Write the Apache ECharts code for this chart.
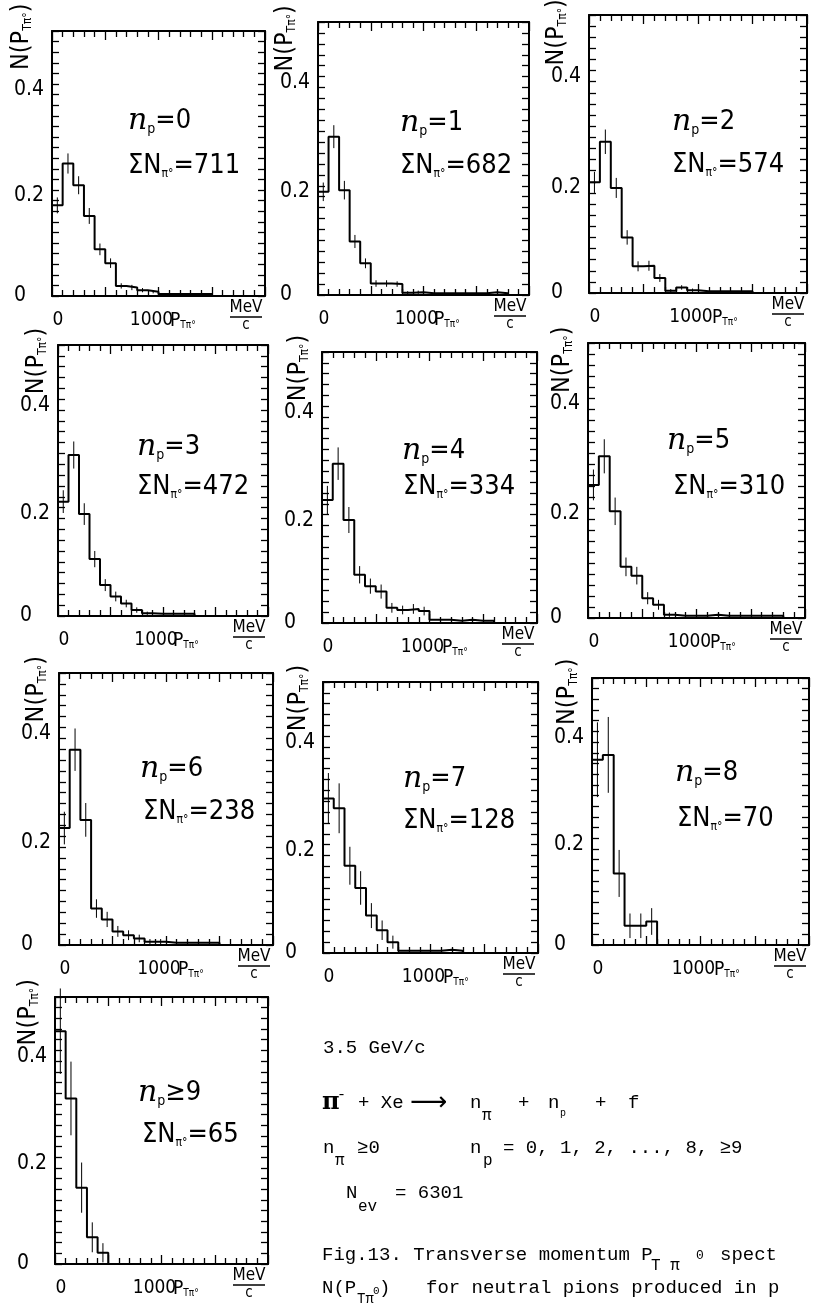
<!DOCTYPE html>
<html><head><meta charset="utf-8">
<script src="https://cdn.jsdelivr.net/npm/echarts@6/dist/echarts.min.js"></script>
<style>html,body{margin:0;padding:0;background:#fff}#c{width:820px;height:1306px}</style>
</head><body><div id="c"></div>
<script>
// ---------------- data ----------------
const binEdges = [0,100,200,300,400,500,600,700,800,900,1000,1100,1200,1300,1400,1500,1600,1700,1800,1900,2000];
const xTickLabels = ['0','1000'];
const yTickLabels = ['0','0.2','0.4'];
const npLabels = ['=0','=1','=2','=3','=4','=5','=6','=7','=8','≥9'];
const sumLabels = ['711','682','574','472','334','310','238','128','70','65'];

const hist0 = [0.171,0.250,0.209,0.151,0.088,0.062,0.019,0.016,0.011,0.008,0.004,0.004,0.004,0.004,0.004];
const hist1 = [0.189,0.290,0.192,0.098,0.058,0.021,0.021,0.020,0.004,0.005,0.003,0.003,0.003,0.003,0.003,0.003,0.005,0.003];
const hist2 = [0.199,0.272,0.189,0.100,0.048,0.049,0.027,0.004,0.010,0.005,0.003,0.003,0.003,0.003,0.003];
const hist3 = [0.211,0.297,0.188,0.105,0.057,0.036,0.023,0.011,0.005,0.004,0.004,0.004,0.004];
const hist4 = [0.227,0.294,0.190,0.089,0.068,0.058,0.028,0.024,0.026,0.022,0.006,0.006,0.004,0.006,0.004,0.004];
const hist5 = [0.242,0.294,0.194,0.093,0.077,0.036,0.024,0.006,0.004,0.004,0.004,0.006,0.004,0.004,0.004,0.004,0.004,0.004];
const hist6 = [0.215,0.359,0.230,0.067,0.047,0.025,0.018,0.012,0.006,0.006,0.004,0.004,0.004,0.004,0.004];
const hist7 = [0.285,0.267,0.161,0.120,0.069,0.042,0.020,0.004,0.004,0.004,0.004,0.006,0.004];
const hist8 = [0.347,0.356,0.134,0.036,0.036,0.044];
const hist9 = [0.436,0.310,0.143,0.050,0.021];

const err0 = [0.015,0.019,0.017,0.015,0.011,0.009,0.005,0.005,0.004,0.003];
const err1 = [0.017,0.021,0.017,0.012,0.009,0.006,0.006,0.005,0.003,0.003];
const err2 = [0.019,0.022,0.018,0.013,0.009,0.009,0.007,0.003,0.004,0.003];
const err3 = [0.021,0.025,0.020,0.015,0.011,0.009,0.007,0.005,0.003];
const err4 = [0.026,0.030,0.024,0.016,0.014,0.013,0.009,0.008,0.009,0.008];
const err5 = [0.028,0.031,0.025,0.017,0.016,0.011,0.009,0.004];
const err6 = [0.030,0.039,0.031,0.017,0.014,0.010,0.009,0.007,0.005,0.005];
const err7 = [0.047,0.046,0.035,0.031,0.023,0.018,0.012];
const err8 = [0.070,0.071,0.044,0.023,0.023,0.025];
const err9 = [0.080,0.069,0.047,0.028,0.018];

// ---------------- layout ----------------
const frames = [[52,31,265,296],[318,22,529,295],[589,15,807,293],
                [58,345,268,616],[322,352,537,623],[588,343,805,618],
                [59,673,273,945],[323,682,538,953],[592,678,809,945],
                [55,997,268,1264]];
const npPos  = [[76,90],[82,101],[83,107],[79,102],[80,99],[79,98],[81,96],[80,97],[83,95],[83,96]];
const sumPos = [[76,135],[82,144],[83,150],[79,142],[81,135],[85,144],[84,139],[80,139],[85,141],[87,138]];
const namePos = [[-31,39],[-33,50],[-33,62],[-22,53],[-24,50],[-26,57],[-23,50],[-25,50],[-25,47],[-27,56]];

const NF = "'Liberation Sans Narrow','DejaVu Sans Condensed',sans-serif";
const MF = "'Liberation Mono','DejaVu Sans Mono',monospace";
const hists = [hist0,hist1,hist2,hist3,hist4,hist5,hist6,hist7,hist8,hist9];
const errs  = [err0,err1,err2,err3,err4,err5,err6,err7,err8,err9];

const grids=[], xAxes=[], yAxes=[], series=[], graphics=[];
const line = {color:'#000', width:1.3};

function txt(x,y,text,opt){
  opt = opt||{};
  return {type:'text', x:x, y:y, rotation:opt.rotation||0, silent:true, z:100,
    style:Object.assign({text:text, fill:'#000', fontSize:opt.size||19, fontFamily:opt.family||MF,
      fontStyle:opt.italic?'italic':'normal', fontWeight:opt.bold?'bold':'normal',
      align:opt.align||'left', textAlign:opt.align||'left',
      verticalAlign:'middle', textVerticalAlign:'middle'}, opt.rich?{rich:opt.rich}:{})};
}

frames.forEach((f,i)=>{
  const [L,T,R,B]=f, W=R-L, H=B-T;
  grids.push({left:L, top:T, width:W, height:H, containLabel:false, outerBoundsMode:'none', show:false});
  const xb = {gridIndex:i, type:'value', min:binEdges[0], max:binEdges[binEdges.length-1], interval:500,
    axisLine:{show:true,onZero:false,lineStyle:{color:'#000',width:2}},
    axisTick:{show:true,inside:true,length:9,lineStyle:line},
    minorTick:{show:true,splitNumber:5,length:6,lineStyle:line},
    splitLine:{show:false}, minorSplitLine:{show:false}};
  xAxes.push(Object.assign({}, xb, {position:'bottom',
    axisLabel:{show:true, margin:15, fontSize:19, fontFamily:NF, color:'#000',
      rich:{z:{fontSize:19,fontFamily:NF,color:'#000',padding:[0,0,0,12]},
            k:{fontSize:19,fontFamily:NF,color:'#000',padding:[0,14,0,0]}},
      formatter:v=>{const s=String(v); if(!xTickLabels.includes(s)) return ''; return (s==='0'?'{z|':'{k|')+s+'}';}}}));
  xAxes.push(Object.assign({}, xb, {position:'top', axisLabel:{show:false}}));
  const yb = {gridIndex:i, type:'value', min:0, max:0.5, interval:0.02,
    axisLine:{show:true,onZero:false,lineStyle:{color:'#000',width:2}},
    axisTick:{show:true,inside:true,length:7,lineStyle:line},
    splitLine:{show:false}};
  yAxes.push(Object.assign({}, yb, {position:'left',
    axisLabel:{show:true, margin:38, align:'left', fontSize:21, fontFamily:NF, color:'#000',
      rich:{d:{fontSize:21,fontFamily:NF,color:'#000',padding:[12,0,0,0]},
            o:{fontSize:21,fontFamily:NF,color:'#000'}},
      formatter:v=>{const s=String(Math.round(v*100)/100); if(!yTickLabels.includes(s)) return ''; return (s==='0'?'{o|':'{d|')+s+'}';}}}));
  yAxes.push(Object.assign({}, yb, {position:'right', axisLabel:{show:false}}));

  const vals = hists[i], n = vals.length;
  const pts = vals.map((v,j)=>[binEdges[j], v]);
  pts.push([binEdges[n], vals[n-1]]);
  pts.push([binEdges[n], 0]);
  series.push({type:'line', xAxisIndex:2*i, yAxisIndex:2*i, data:pts, step:'end', symbol:'none',
    lineStyle:{color:'#000', width:2}, silent:true, animation:false, z:5});
  const ed = errs[i].map((e,j)=>[(binEdges[j]+binEdges[j+1])/2, Math.max(0, vals[j]-e), vals[j]+e]);
  series.push({type:'custom', xAxisIndex:2*i, yAxisIndex:2*i, data:ed, encode:{x:0,y:[1,2]}, silent:true, animation:false, z:6,
    renderItem:(params, api)=>{
      const p1 = api.coord([api.value(0), api.value(1)]);
      const p2 = api.coord([api.value(0), api.value(2)]);
      return {type:'line', shape:{x1:p1[0],y1:p1[1],x2:p2[0],y2:p2[1]}, style:{stroke:'#000', lineWidth:1}};
    }});

  // y axis name N(P_Tπ°), rotated
  const nameY = T + Math.min(namePos[i][1], 0.2*H - 5);
  graphics.push(txt(L+namePos[i][0], nameY, '{a|N(P}{s|Tπ°}{a|)}', {rotation:Math.PI/2,
    rich:{a:{fontSize:25,fontFamily:NF,fill:'#000'}, s:{fontSize:12,fontFamily:NF,fill:'#000',verticalAlign:'bottom'}}}));
  // x axis name
  graphics.push(txt(R-95, B+25, '{a|P}{s|Tπ°}', {rich:{a:{fontSize:19,fontFamily:NF,fill:'#000'},
    s:{fontSize:10,fontFamily:NF,fill:'#000',verticalAlign:'bottom'}}}));
  graphics.push(txt(R-19, B+12, 'MeV', {size:17, family:NF, align:'center'}));
  graphics.push({type:'line', silent:true, shape:{x1:R-35,y1:B+21,x2:R-3,y2:B+21}, style:{stroke:'#000',lineWidth:1.5}});
  graphics.push(txt(R-19, B+29, 'c', {size:15, family:NF, align:'center'}));
  // annotations
  graphics.push(txt(L+npPos[i][0], T+npPos[i][1], '{n|n}{s|p}{m|'+npLabels[i]+'}', {rich:{
    n:{fontSize:30,fontFamily:"'DejaVu Serif',serif",fontStyle:'italic',fill:'#000'},
    s:{fontSize:14,fontFamily:NF,fill:'#000',verticalAlign:'bottom'},
    m:{fontSize:27,fontFamily:NF,fill:'#000'}}}));
  graphics.push(txt(L+sumPos[i][0], T+sumPos[i][1], '{m|ΣN}{s|π°}{m|='+sumLabels[i]+'}', {rich:{
    s:{fontSize:12,fontFamily:NF,fill:'#000',verticalAlign:'bottom'},
    m:{fontSize:27,fontFamily:NF,fill:'#000'}}}));
});

// caption block
const caption = [
  [323,1048,'3.5 GeV/c',{}],
  [322,1103,'π',{size:24,bold:true,family:"'DejaVu Serif',serif"}],
  [337,1095,'-',{size:15}],
  [358,1103,'+ Xe',{}],
  [410,1103,'⟶',{size:26,family:"'DejaVu Sans',sans-serif"}],
  [470,1103,'n',{}],
  [482,1116,'π',{size:16}],
  [518,1103,'+',{}],
  [548,1103,'n',{}],
  [560,1113,'p',{size:10}],
  [595,1103,'+',{}],
  [628,1103,'f',{}],
  [323,1148,'n',{}],
  [335,1161,'π',{size:16}],
  [357,1148,'≥0',{}],
  [470,1148,'n',{}],
  [483,1161,'p',{size:16}],
  [503,1148,'= 0, 1, 2, ..., 8, ≥9',{}],
  [346,1193,'N',{}],
  [358,1207,'ev',{size:16}],
  [395,1193,'= 6301',{}],
  [322,1255,'Fig.13. Transverse momentum P',{}],
  [651,1266,'T π',{size:16}],
  [696,1256,'0',{size:13}],
  [720,1255,'spect',{}],
  [322,1288,'N(P',{}],
  [357,1299,'Tπ',{size:14}],
  [373,1291,'0',{size:11}],
  [379,1288,')',{}],
  [426,1288,'for neutral pions produced in p',{}]
];
caption.forEach(c=>graphics.push(txt(c[0],c[1],c[2],c[3])));

const chart = echarts.init(document.getElementById('c'), null, {renderer:'canvas'});
chart.setOption({animation:false, backgroundColor:'#fff', grid:grids, xAxis:xAxes, yAxis:yAxes, series:series, graphic:{elements:graphics}});
</script></body></html>
